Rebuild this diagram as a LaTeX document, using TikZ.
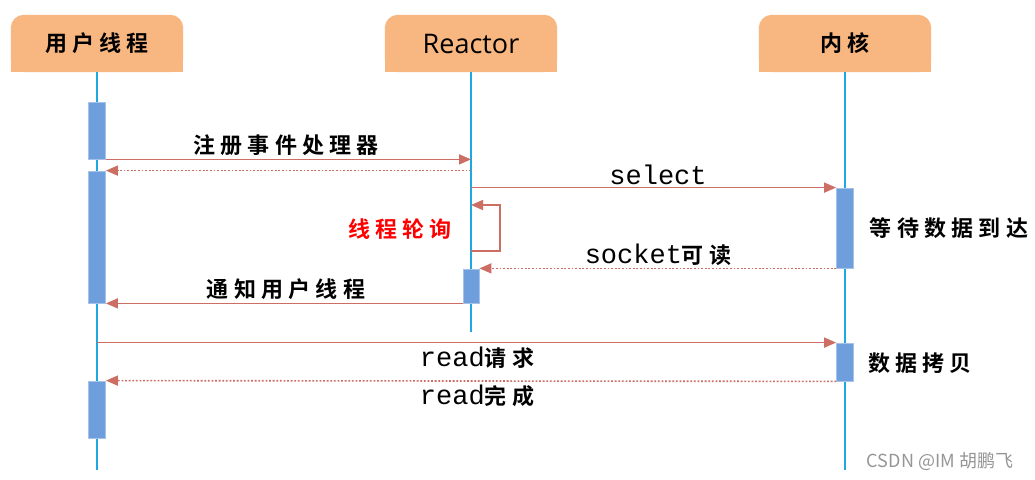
\documentclass[tikz,border=0pt]{standalone}
\usepackage{fontspec}
\usetikzlibrary{arrows.meta}
\setmainfont{Open Sans}
\newfontfamily\cjk{Noto Sans CJK SC}[BoldFont={* Bold}]
\newfontfamily\cjksp{Noto Sans CJK SC}[BoldFont={* Bold},LetterSpace=24]
\newfontfamily\cjkhd{Noto Sans CJK SC}[BoldFont={* Bold},LetterSpace=24]
\newfontfamily\monof{Liberation Mono}
\definecolor{headcol}{RGB}{248,182,128}
\definecolor{lifecol}{RGB}{30,167,225}
\definecolor{actfill}{RGB}{111,158,220}
\definecolor{actedge}{RGB}{165,195,232}
\definecolor{arrcol}{RGB}{204,110,100}
\definecolor{wmcol}{RGB}{150,150,150}
\tikzset{
  head/.style={minimum width=172pt,minimum height=57pt,inner sep=0pt},
  life/.style={draw=lifecol,line width=1.6pt},
  act/.style={draw=actedge,fill=actfill,line width=0.8pt,minimum width=17pt,inner sep=0pt},
  msg/.style={draw=arrcol,line width=1.6pt,-{Triangle[length=12pt,width=10pt]}},
  ret/.style={draw=arrcol,line width=1.6pt,dash pattern=on 1.8pt off 1.8pt,-{Triangle[length=12pt,width=10pt]}},
  lbl/.style={inner sep=0pt,font=\cjksp\bfseries\fontsize{22}{24}\selectfont},
  mlbl/.style={inner sep=0pt,font=\fontsize{27}{30}\selectfont},
}
\begin{document}
\begin{tikzpicture}[x=1pt,y=-1pt]
\useasboundingbox[fill=white] (0,0) rectangle (1035,479);
% headers
\node[head] (hu) at (97,43.5) {};
\node[head] (hr) at (471,43.5) {};
\node[head] (hk) at (845,43.5) {};
\foreach \h in {hu,hr,hk}{
  \fill[headcol,rounded corners=13pt] (\h.south west) rectangle (\h.north east);
  \fill[headcol] (\h.west) rectangle (\h.south east);
}
\node[font=\cjkhd\bfseries\fontsize{22}{24}\selectfont] at (hu.center) {用户线程};
\node[font=\fontsize{27}{30}\selectfont] at (hr.center) {Reactor};
\node[font=\cjkhd\bfseries\fontsize{22}{24}\selectfont] at (hk.center) {内核};
% lifelines
\coordinate (uend) at (97,470);
\coordinate (rend) at (471,332);
\coordinate (kend) at (845,470);
\draw[life] (hu.south) -- (uend);
\draw[life] (hr.south) -- (rend);
\draw[life] (hk.south) -- (kend);
% activations
\node[act,minimum height=57pt] (ua1) at (97,130.5) {};
\node[act,minimum height=132pt] (ua2) at (97,237) {};
\node[act,minimum height=57pt] (ua3) at (97,409.5) {};
\node[act,minimum width=16pt,minimum height=34pt] (ra1) at (471,286) {};
\node[act,minimum height=80pt] (ka1) at (845,228) {};
\node[act,minimum height=38pt] (ka2) at (845,362) {};
% messages
\draw[msg] (ua1.south east) -- (ua1.south east -| hr.south);
\draw[ret] (ua2.north east -| hr.south) -- (ua2.north east);
\draw[msg] (ka1.north west -| hr.south) -- (ka1.north west);
\coordinate (lp1) at (471,251);
\coordinate (lp2) at (471,205);
\draw[msg] (lp1) -- ++(29,0) |- (lp2);
\draw[ret] (ka1.south west) -- (ka1.south west -| ra1.east);
\draw[msg] (ra1.south west) -- (ua2.south east);
\draw[msg] (ka2.north west -| hu.south) -- (ka2.north west);
\draw[ret] (ka2.south west) -- (ua3.north east);
% labels
\node[lbl] (t1) at (286,145) {注册事件处理器};
\node[mlbl] (t2) at (658,175) {\monof select};
\node[lbl,text=red] (t3) at (400,229) {线程轮询};
\node[mlbl] (t4) at (658,255) {\monof socket\cjksp\bfseries\fontsize{22}{24}\selectfont 可读};
\node[lbl] (t5) at (286,289) {通知用户线程};
\node[lbl] (t6) at (949,228) {等待数据到达};
\node[mlbl] (t7) at (477,358) {\monof read\cjksp\bfseries\fontsize{22}{24}\selectfont 请求};
\node[mlbl] (t8) at (477,396) {\monof read\cjksp\bfseries\fontsize{22}{24}\selectfont 完成};
\node[lbl] (t9) at (920,363) {数据拷贝};
\node[font=\cjk\fontsize{18}{20}\selectfont,text=wmcol,inner sep=0pt] (wm) at (940,461) {CSDN @IM 胡鹏飞};
\end{tikzpicture}
\end{document}
